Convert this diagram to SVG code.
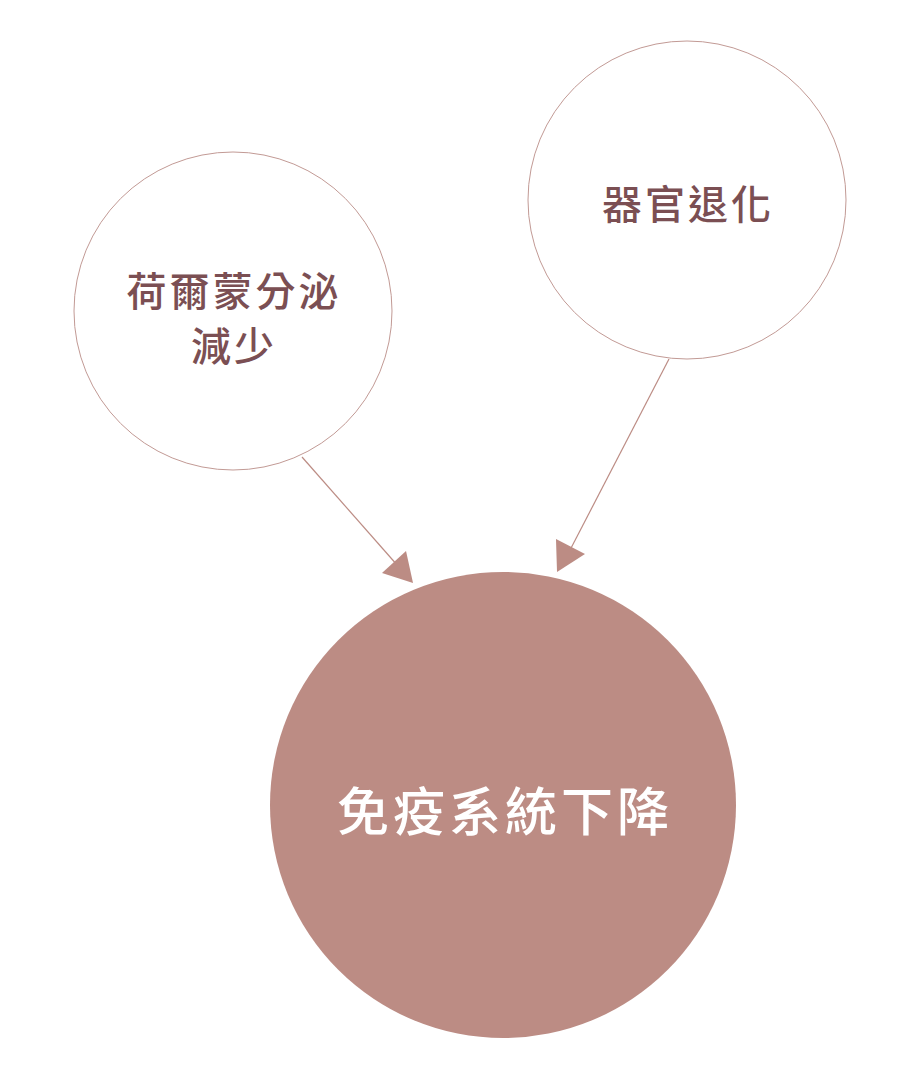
<svg xmlns="http://www.w3.org/2000/svg" width="916" height="1081" viewBox="0 0 916 1081">
<style>
.small{fill:#ffffff;stroke:#c29a95;stroke-width:1}
.big{fill:#bc8c84}
.lbl{font-family:"Noto Sans CJK TC","Noto Sans CJK SC",sans-serif;font-size:40px;font-weight:500;fill:#7b4f53;text-anchor:middle;letter-spacing:3px}
.lblw{font-family:"Noto Sans CJK TC","Noto Sans CJK SC",sans-serif;font-size:52px;font-weight:500;fill:#ffffff;text-anchor:middle;letter-spacing:4px}
.conn{stroke:#bc8c84;stroke-width:1.2;fill:none}
.head{fill:#bc8c84}
</style>
<rect width="916" height="1081" fill="#ffffff"/>
<g id="connectors">
<line class="conn" x1="302" y1="457" x2="398" y2="566"/>
<polygon class="head" points="413,583 382,573 406,551"/>
<line class="conn" x1="669" y1="359" x2="569" y2="552"/>
<polygon class="head" points="557,572 556,539 585,554"/>
</g>
<g id="node-hormone">
<circle class="small" cx="233" cy="311" r="159"/>
<text class="lbl" x="234" y="306">荷爾蒙分泌</text>
<text class="lbl" x="234" y="361">減少</text>
</g>
<g id="node-organ">
<circle class="small" cx="687" cy="200" r="159"/>
<text class="lbl" x="688" y="219">器官退化</text>
</g>
<g id="node-immune">
<circle class="big" cx="503" cy="805" r="233"/>
<text class="lblw" x="505" y="831">免疫系統下降</text>
</g>
</svg>
